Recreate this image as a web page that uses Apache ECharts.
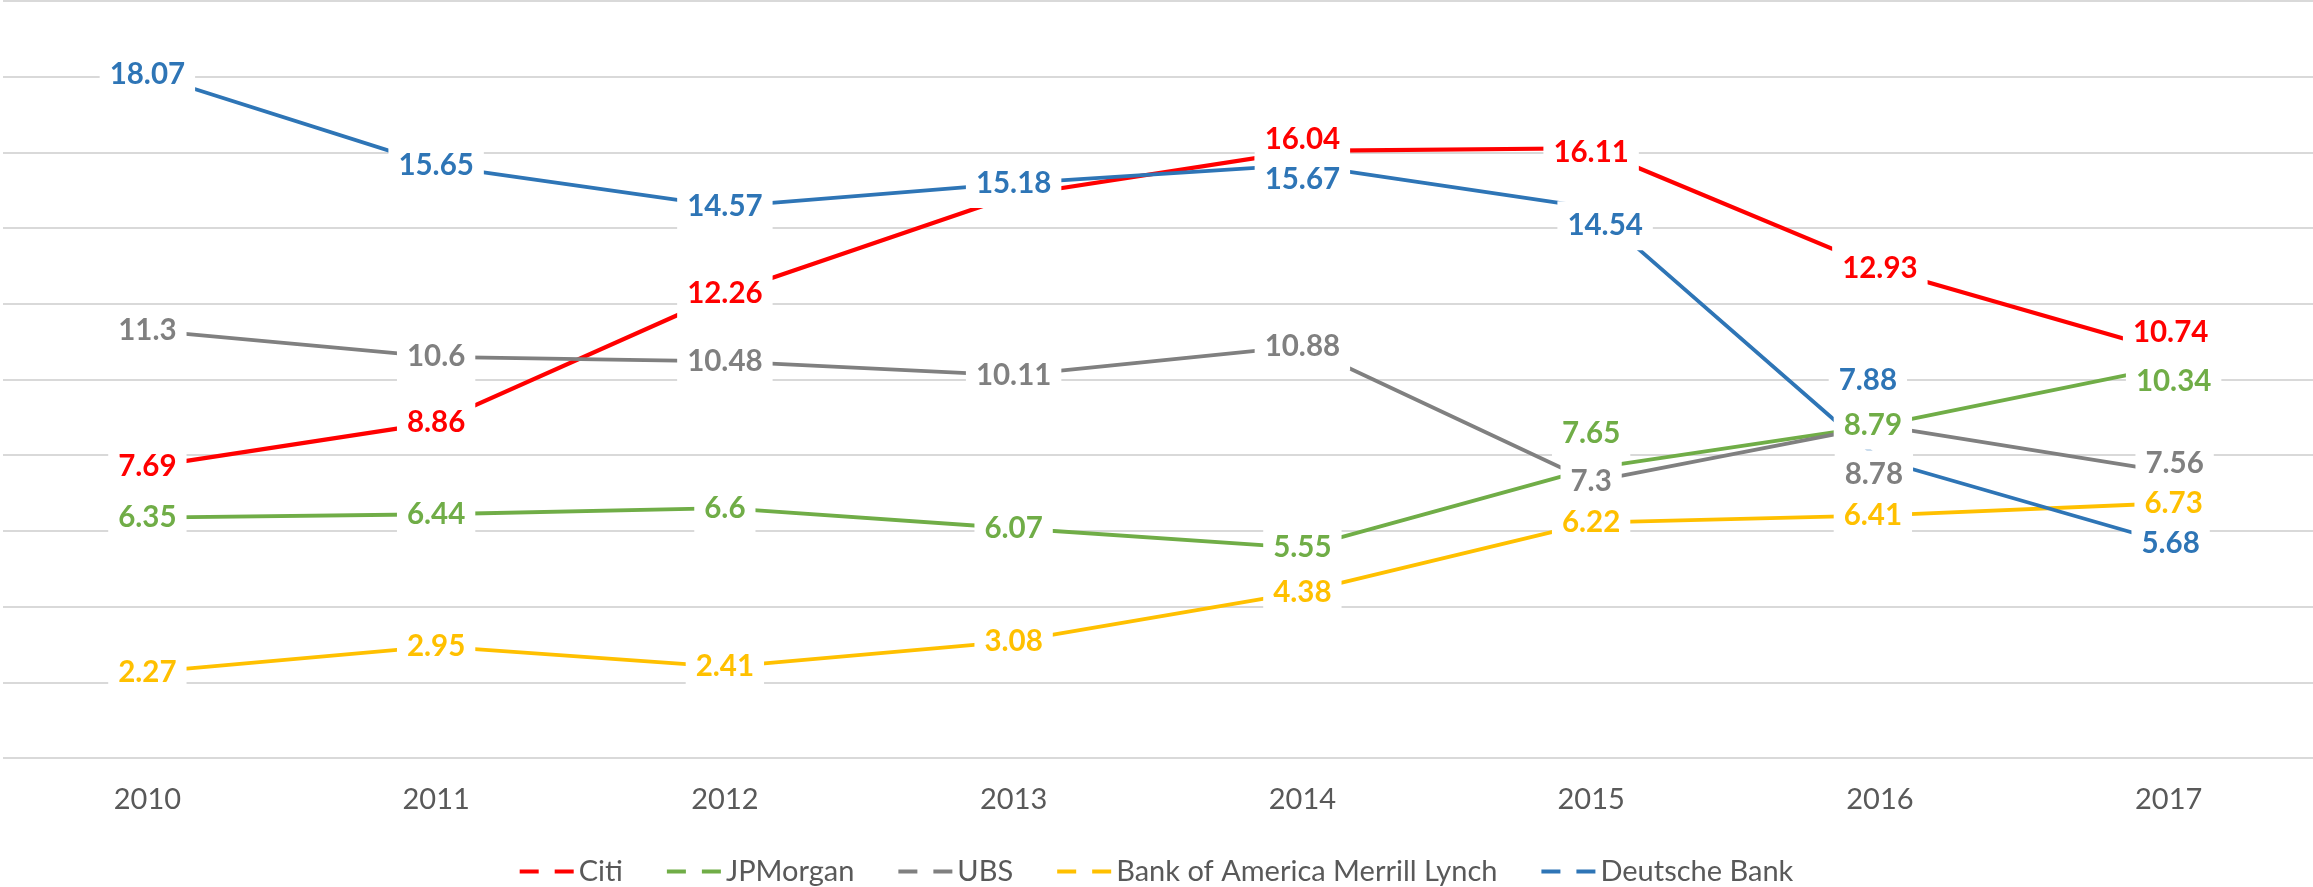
<!DOCTYPE html>
<html>
<head>
<meta charset="utf-8">
<script src="https://cdn.jsdelivr.net/npm/echarts@6/dist/echarts.min.js"></script>
<style>
html,body{margin:0;padding:0;background:#fff;}
#chart{width:2313px;height:887px;}
</style>
</head>
<body>
<div id="chart"></div>
<script>
// ---- data ----
var categories = ['2010','2011','2012','2013','2014','2015','2016','2017'];
var citi     = [7.69, 8.86, 12.26, 14.86, 16.04, 16.11, 12.93, 10.74];
var jpmorgan = [6.35, 6.44, 6.6, 6.07, 5.55, 7.65, 8.79, 10.34];
var ubs      = [11.3, 10.6, 10.48, 10.11, 10.88, 7.3, 8.78, 7.56];
var bofa     = [2.27, 2.95, 2.41, 3.08, 4.38, 6.22, 6.41, 6.73];
var deutsche = [18.07, 15.65, 14.57, 15.18, 15.67, 14.54, 7.88, 5.68];
var seriesNames = ['Citi','JPMorgan','UBS','Bank of America Merrill Lynch','Deutsche Bank'];

// ---- styling (kept apart from data) ----
var colors = ['#FF0000','#70AD47','#808080','#FFC000','#2E75B6'];
var lineWidths = [4.2, 3.8, 3.8, 3.8, 3.8];
// label nudges [dx, dy] in px, by series index and category index
var labelNudge = {
  0: {3: 'hide', 4: [0,-11], 5: [0,4], 7: [2,-19]},
  1: {5: [0,-35], 6: [-7,0], 7: [5,15]},
  2: {6: [-6,49], 7: [6,-8]},
  3: {6: [-7,0], 7: [5,0]},
  4: {4: [0,15], 5: [14,18], 6: [-12,-79], 7: [2,0]}
};

var allData = [citi, jpmorgan, ubs, bofa, deutsche];

function buildSeries(i) {
  var vals = allData[i];
  var data = vals.map(function (v, j) {
    var n = labelNudge[i] && labelNudge[i][j];
    if (n === 'hide') return {value: v, label: {show: false}};
    if (n) return {value: v, label: {offset: n}};
    return v;
  });
  return {
    name: seriesNames[i],
    type: 'line',
    data: data,
    symbol: 'circle',
    symbolSize: 2,
    showSymbol: true,
    showAllSymbol: true,
    smooth: false,
    color: colors[i],
    lineStyle: {color: colors[i], width: lineWidths[i]},
    itemStyle: {color: colors[i]},
    label: {
      show: true,
      position: 'inside',
      color: colors[i],
      fontFamily: 'Lato',
      fontWeight: 'bold',
      fontSize: 29.5,
      lineHeight: 37,
      backgroundColor: '#FFFFFF',
      padding: [6, 10, 6, 10]
    },
    emphasis: {disabled: true}
  };
}

var chart = echarts.init(document.getElementById('chart'), null, {renderer: 'canvas'});
chart.setOption({
  animation: false,
  backgroundColor: '#FFFFFF',
  grid: {left: 3, right: 0, top: 1, bottom: 129, containLabel: false},
  xAxis: {
    type: 'category',
    data: categories,
    boundaryGap: true,
    axisLine: {show: false},
    axisTick: {show: false},
    axisLabel: {color: '#595959', fontFamily: 'Lato', fontSize: 29, margin: 27}
  },
  yAxis: {
    type: 'value',
    min: 0, max: 20, interval: 2,
    axisLine: {show: false},
    axisTick: {show: false},
    axisLabel: {show: false},
    splitLine: {lineStyle: {color: '#D9D9D9', width: 2}}
  },
  legend: {
    data: seriesNames,
    left: 'center',
    top: 852,
    itemGap: 44,
    itemWidth: 54,
    itemHeight: 4,
    icon: 'path://M0,0h19v4h-19z M35,0h19v4h-19z',
    textStyle: {color: '#595959', fontFamily: 'Lato', fontSize: 29}
  },
  series: [0,1,2,3,4].map(buildSeries)
});
</script>
</body>
</html>
